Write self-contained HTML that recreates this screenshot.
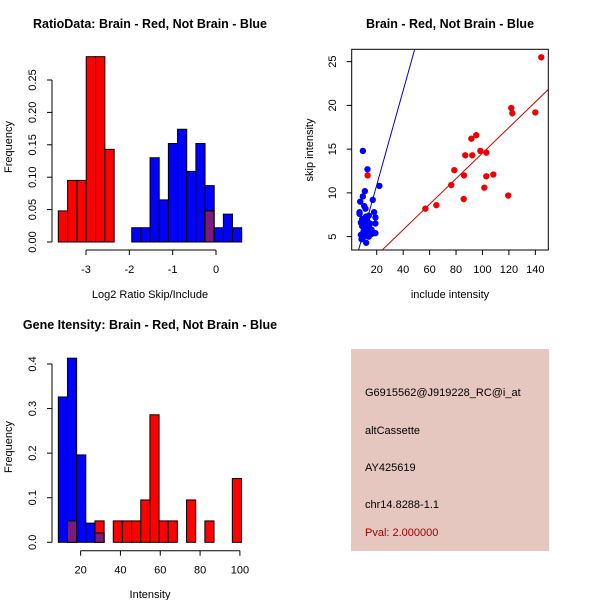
<!DOCTYPE html>
<html><head><meta charset="utf-8"><style>
body{margin:0;background:#fff}
svg{display:block;font-family:"Liberation Sans",Arial,sans-serif}
</style></head><body>
<svg id="s" width="600" height="600" viewBox="0 0 600 600">
<rect x="0" y="0" width="600" height="600" fill="#fff"/>
<g id="p1"></g>
<g id="p2"></g>
<g id="p3"></g>
<g>
<rect x="351" y="349" width="198" height="202" fill="#e5c7c0"/>
<text x="365" y="396" font-size="11">G6915562@J919228_RC@i_at</text>
<text x="365" y="434" font-size="11">altCassette</text>
<text x="365" y="471" font-size="11">AY425619</text>
<text x="365" y="508" font-size="11">chr14.8288-1.1</text>
<text x="365" y="536" font-size="11" fill="#a00000">Pval: 2.000000</text>
</g>
</svg>
<script>
// Plot 1 data
const p1RedStart = -3.64, p1RedWidth = 0.215;
const p1RedHeights = [0.048,0.095,0.095,0.286,0.286,0.143];
const p1RedExtraStart = [-0.26], p1RedExtraHeights = [0.048];
const p1BlueStart = -1.945, p1BlueWidth = 0.2115;
const p1BlueHeights = [0.022,0.022,0.130,0.065,0.152,0.174,0.109,0.152,0.087,0.022,0.043,0.022];
const p1XTicks = [-3,-2,-1,0];
const p1YTicks = [0,0.05,0.10,0.15,0.20,0.25];
const p1YTickLabels = ["0.00","0.05","0.10","0.15","0.20","0.25"];
// Plot 2 data
const redX = [13.1,56.8,65.1,76.4,78.7,85.8,86.0,87.0,91.6,92.3,95.3,98.4,102.9,101.4,102.9,108.2,119.5,121.8,122.6,140,144.5];
const redY = [12.0,8.2,8.6,10.9,12.6,9.3,12.0,14.3,16.2,14.3,16.6,14.8,14.6,10.6,11.9,12.1,9.7,19.7,19.1,19.2,25.5];
const blueX = [9.5,13,22,11,9.5,7.5,17,10.5,11.5,7,7,18,14,19,9,11,12.5,8,10,13,15,19,9,11,12,14,16,10,13,15,8,10.5,14,19,8.5,12,11,9,12,16];
const blueY = [14.8,12.7,10.8,10.2,9.6,9.0,9.2,8.5,8.2,7.8,7.6,7.8,7.4,7.2,7.0,7.1,6.9,6.6,6.5,6.7,6.5,6.5,6.2,6.0,5.9,6.1,5.8,5.6,5.4,5.5,5.2,5.0,5.0,5.4,4.7,4.3,5.3,6.8,7.3,5.3];
const redFit = [-0.05,0.146];
const blueFit = [0.1,0.54];
const p2XTicks = [20,40,60,80,100,120,140];
const p2YTicks = [5,10,15,20,25];
// Plot 3 data
const p3Start = 8.8, p3Width = 4.6;
const p3Blue = [0.326,0.413,0.196,0.043,0.021];
const p3Red = [0,0.048,0,0,0.048,0,0.048,0.048,0.048,0.095,0.286,0.048,0.048,0,0.095,0,0.048,0,0,0.143];
const p3XTicks = [20,40,60,80,100];
const p3YTicks = [0,0.1,0.2,0.3,0.4];
const p3YTickLabels = ["0.0","0.1","0.2","0.3","0.4"];

const NS="http://www.w3.org/2000/svg";
function mk(parent,tag,attrs,text){const e=document.createElementNS(NS,tag);for(const k in attrs)e.setAttribute(k,attrs[k]);if(text!==undefined)e.textContent=text;parent.appendChild(e);return e;}
function rect(g,x0,x1,y0,y1,fill,name){
  const r=mk(g,'rect',{x:Math.min(x0,x1),y:Math.min(y0,y1),width:Math.abs(x1-x0),height:Math.abs(y1-y0),fill:fill,stroke:'#000','stroke-width':1});
  
  
  return r;
}
function line(g,x1,y1,x2,y2,col,name){
  const l=mk(g,'line',{x1,y1,x2,y2,stroke:col||'#000','stroke-width':1});
  
  
  return l;
}
function txt(g,x,y,s,opts,name){
  const a=Object.assign({x,y,'font-size':11,'text-anchor':'middle'},opts||{});
  const t=mk(g,'text',a,s);
  
  
  return t;
}
function yAxis(g,axX,ticks,labels,sy,name){
  line(g,axX,sy(ticks[0]),axX,sy(ticks[ticks.length-1]),'#000',name+'-line');
  ticks.forEach((v,i)=>{
    line(g,axX-5,sy(v),axX,sy(v),'#000',name+'-tick');
    txt(g,0,0,labels[i],{transform:`translate(${axX-16},${sy(v)}) rotate(-90)`},name+'-label');
  });
}
function xAxis(g,axY,ticks,sx,name){
  line(g,sx(ticks[0]),axY,sx(ticks[ticks.length-1]),axY,'#000',name+'-line');
  ticks.forEach(v=>{
    line(g,sx(v),axY,sx(v),axY+5,'#000',name+'-tick');
    txt(g,sx(v),axY+23,String(v),{},name+'-label');
  });
}
function overlapPurple(g,rx0,rx1,rh,bars,sx,sy){
  bars.forEach(b=>{
    const a=Math.max(rx0,b[0]),c=Math.min(rx1,b[1]);
    if(c-a>1e-6&&b[2]>0&&rh>0){rect(g,sx(a),sx(c),sy(0),sy(Math.min(rh,b[2])),'#7a1a7a','overlap-bar');}
  });
}

// Plot 1
(function(){
  const g=document.getElementById('p1');
  const sx=v=>216+v*43.33, sy=v=>242-v*648;
  const blueBars=p1BlueHeights.map((h,i)=>[p1BlueStart+i*p1BlueWidth,p1BlueStart+(i+1)*p1BlueWidth,h]);
  p1RedHeights.forEach((h,i)=>rect(g,sx(p1RedStart+i*p1RedWidth),sx(p1RedStart+(i+1)*p1RedWidth),sy(0),sy(h),'#ff0000','brain-bar'));
  blueBars.forEach(b=>rect(g,sx(b[0]),sx(b[1]),sy(0),sy(b[2]),'#0000ff','not-brain-bar'));
  p1RedExtraStart.forEach((s,i)=>{
    rect(g,sx(s),sx(s+p1RedWidth),sy(0),sy(p1RedExtraHeights[i]),'#ff0000','brain-bar');
    overlapPurple(g,s,s+p1RedWidth,p1RedExtraHeights[i],blueBars,sx,sy);
  });
  yAxis(g,52,p1YTicks,p1YTickLabels,sy,'p1-y-axis');
  xAxis(g,250,p1XTicks,sx,'p1-x-axis');
  txt(g,150,28,'RatioData: Brain - Red, Not Brain - Blue',{'font-weight':'bold','font-size':12.5},'p1-title');
  txt(g,150,298,'Log2 Ratio Skip/Include',{},'p1-x-title');
  txt(g,0,0,'Frequency',{transform:'translate(12,147) rotate(-90)'},'p1-y-title');
})();

// Plot 2
(function(){
  const g=document.getElementById('p2');
  const sx=v=>350.3+v*1.3217, sy=v=>280.4-v*8.75;
  const cp=mk(g,'clipPath',{id:'c2'});mk(cp,'rect',{x:352,y:49.5,width:196,height:200.5});
  const lg=mk(g,'g',{'clip-path':'url(#c2)'});
  [[blueFit,'#0000cc','blue-fit-line'],[redFit,'#cc0000','red-fit-line']].forEach(f=>{
    line(lg,sx(0),sy(f[0][0]),sx(160),sy(f[0][0]+f[0][1]*160),f[1],f[2]);
  });
  blueX.forEach((x,i)=>{const c=mk(g,'circle',{cx:sx(x),cy:sy(blueY[i]),r:3.2,fill:'#0000ff'});
    
    });
  redX.forEach((x,i)=>{const c=mk(g,'circle',{cx:sx(x),cy:sy(redY[i]),r:3.2,fill:'#ee0000'});
    
    });
  const b=mk(g,'rect',{x:351.7,y:49.3,width:196.6,height:200.7,fill:'none',stroke:'#000','stroke-width':1});
  
  
  p2YTicks.forEach(v=>{line(g,346.7,sy(v),351.7,sy(v),'#000','p2-y-tick');
    txt(g,0,0,String(v),{transform:`translate(336,${sy(v)}) rotate(-90)`},'p2-y-label');});
  p2XTicks.forEach(v=>{line(g,sx(v),250,sx(v),255,'#000','p2-x-tick');
    txt(g,sx(v),273,String(v),{},'p2-x-label');});
  txt(g,450,28,'Brain - Red, Not Brain - Blue',{'font-weight':'bold','font-size':12.5},'p2-title');
  txt(g,450,298,'include intensity',{},'p2-x-title');
  txt(g,0,0,'skip intensity',{transform:'translate(313,150) rotate(-90)'},'p2-y-title');
})();

// Plot 3
(function(){
  const g=document.getElementById('p3');
  const sx=v=>40.8+v*1.991, sy=v=>542.3-v*445.8;
  const blueBars=p3Blue.map((h,i)=>[p3Start+i*p3Width,p3Start+(i+1)*p3Width,h]);
  blueBars.forEach(b=>rect(g,sx(b[0]),sx(b[1]),sy(0),sy(b[2]),'#0000ff','not-brain-bar'));
  p3Red.forEach((h,i)=>{ if(h<=0)return;
    const a=p3Start+i*p3Width,c=a+p3Width;
    const bh=(blueBars[i]||[0,0,0])[2];
    if(h>bh) rect(g,sx(a),sx(c),sy(0),sy(h),'#ff0000','brain-bar');
    overlapPurple(g,a,c,h,blueBars,sx,sy);
  });
  yAxis(g,52,p3YTicks,p3YTickLabels,sy,'p3-y-axis');
  xAxis(g,550.7,p3XTicks,sx,'p3-x-axis');
  txt(g,150,329,'Gene Itensity: Brain - Red, Not Brain - Blue',{'font-weight':'bold','font-size':12.5},'p3-title');
  txt(g,150,598,'Intensity',{},'p3-x-title');
  txt(g,0,0,'Frequency',{transform:'translate(12,447) rotate(-90)'},'p3-y-title');
})();
</script>
</body></html>
